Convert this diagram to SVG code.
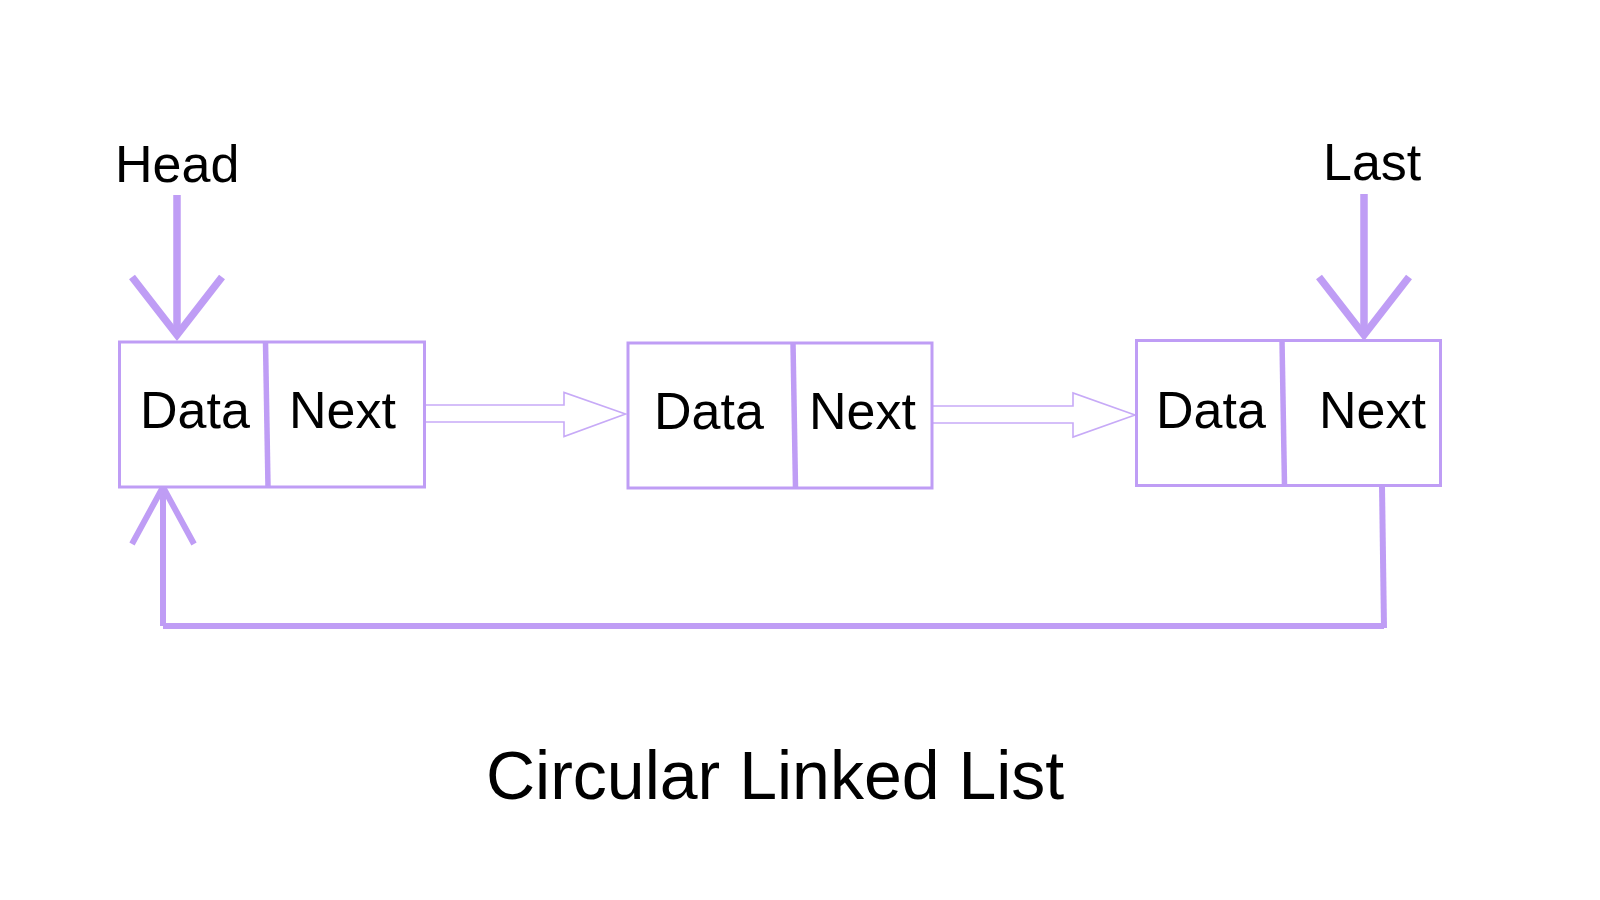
<svg xmlns="http://www.w3.org/2000/svg" width="1600" height="900" viewBox="0 0 1600 900">
<style>
.box{fill:#ffffff;stroke:#bf9df5;stroke-width:3}
.div{stroke:#bf9df5;stroke-width:5.5;fill:none}
.lbl{font-family:"Liberation Sans",Arial,sans-serif;font-size:52px;fill:#000000}
.title{font-family:"Liberation Sans",Arial,sans-serif;font-size:68px;fill:#000000}
.ptr{stroke:#bf9df5;stroke-width:7.5;fill:none}
.ret{stroke:#bf9df5;stroke-width:6;fill:none}
.hollow{fill:#ffffff;stroke:#c7aaf7;stroke-width:1.6;stroke-linejoin:miter}
</style>
<rect width="1600" height="900" fill="#ffffff"/>
<g id="connectors">
  <path class="hollow" d="M424,405 L564,405 L564,392.5 L625.5,414 L564,436.5 L564,422 L424,422"/>
  <path class="hollow" d="M933,406 L1073,406 L1073,393 L1135,415 L1073,437 L1073,423 L933,423"/>
  <path class="ret" d="M1382,486 L1384,628"/>
  <path class="ret" d="M163,626 L1384,626"/>
  <path class="ret" d="M163,626 L163,488"/>
  <path class="ret" d="M132,544 L163,487 L194,544"/>
  <path class="ptr" d="M177,195 L177,336"/>
  <path class="ptr" d="M132,277 L177,335 L222,277"/>
  <path class="ptr" d="M1364,194 L1364,335"/>
  <path class="ptr" d="M1319,277 L1364,335 L1409,277"/>
</g>
<g id="head-label"><text class="lbl" x="115" y="182">Head</text></g>
<g id="last-label"><text class="lbl" x="1323" y="180">Last</text></g>
<g id="node1">
  <rect class="box" x="119.5" y="342" width="305" height="145"/>
  <path class="div" d="M265.5,342 L268,487"/>
  <text class="lbl" x="140" y="428">Data</text>
  <text class="lbl" x="289" y="428">Next</text>
</g>
<g id="node2">
  <rect class="box" x="628" y="343" width="304" height="145"/>
  <path class="div" d="M793,343 L795.5,488"/>
  <text class="lbl" x="654" y="429">Data</text>
  <text class="lbl" x="809" y="429">Next</text>
</g>
<g id="node3">
  <rect class="box" x="1136.5" y="340.5" width="304" height="145"/>
  <path class="div" d="M1282,340.5 L1284.5,485.5"/>
  <text class="lbl" x="1156" y="428">Data</text>
  <text class="lbl" x="1319" y="428">Next</text>
</g>
<g id="title"><text class="title" x="486" y="799">Circular Linked List</text></g>
</svg>
